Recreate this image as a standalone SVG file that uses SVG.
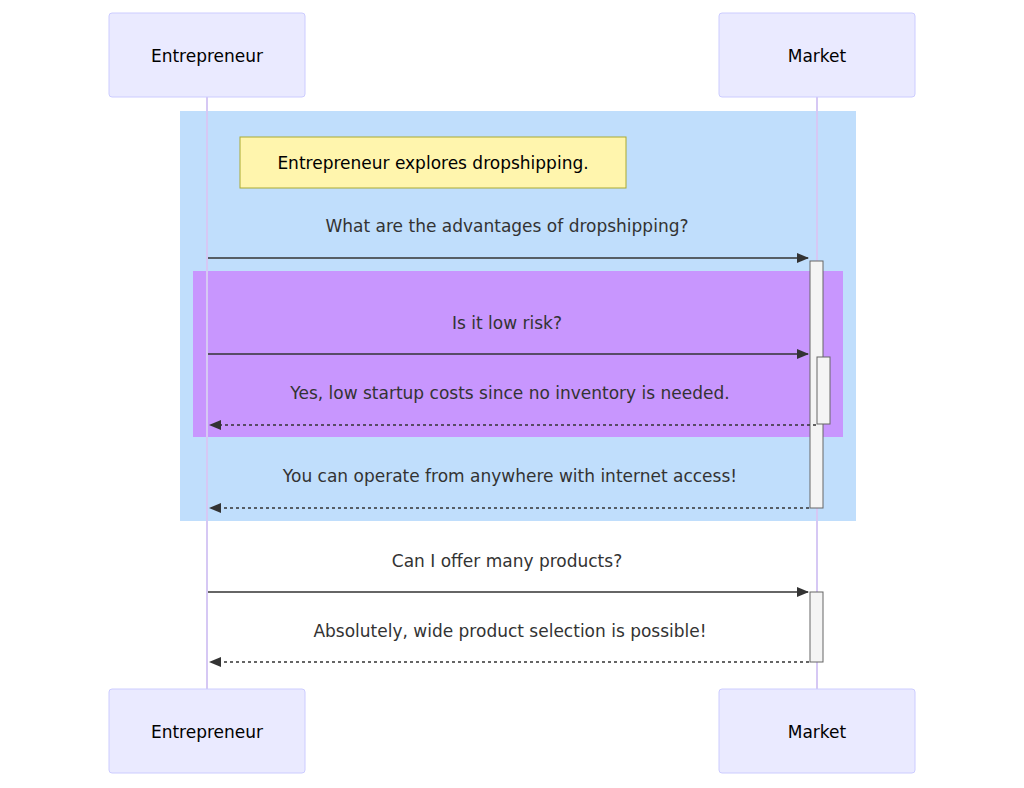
<svg xmlns="http://www.w3.org/2000/svg" width="1024" height="788" viewBox="0 0 1024 788">
<style>
.actor{fill:#eaeaff;stroke:#ccccff;stroke-width:1}
.at{font-family:"DejaVu Sans",Verdana,sans-serif;font-size:17px;fill:#000;text-anchor:middle;dominant-baseline:central}
.mt{font-family:"DejaVu Sans",Verdana,sans-serif;font-size:17px;fill:#333;text-anchor:middle;dominant-baseline:central}
.life{stroke:#d6c8f4;stroke-width:2}
.msg{stroke:#333;stroke-width:1.5;fill:none}
.dash{stroke-dasharray:3,3}
.act{fill:#f4f4f4;stroke:#666;stroke-width:1}
</style>
<defs>
<marker id="ah" viewBox="0 0 12 10" refX="11" refY="5" markerWidth="12" markerHeight="10" markerUnits="userSpaceOnUse" orient="auto"><path d="M0,0L12,5L0,10z" fill="#333"/></marker>
</defs>
<rect x="180" y="111" width="676" height="410" fill="#c0defc"/>
<rect x="193" y="271" width="650" height="166" fill="#c896fe"/>
<g id="lifelines">
<line class="life" x1="207" y1="97" x2="207" y2="689"/>
<line class="life" x1="817" y1="97" x2="817" y2="689"/>
</g>
<g id="entrepreneur-top"><rect class="actor" x="109" y="13" width="196" height="84" rx="3"/><text class="at" x="207" y="56">Entrepreneur</text></g>
<g id="market-top"><rect class="actor" x="719" y="13" width="196" height="84" rx="3"/><text class="at" x="817" y="56">Market</text></g>
<g id="entrepreneur-bottom"><rect class="actor" x="109" y="689" width="196" height="84" rx="3"/><text class="at" x="207" y="732">Entrepreneur</text></g>
<g id="market-bottom"><rect class="actor" x="719" y="689" width="196" height="84" rx="3"/><text class="at" x="817" y="732">Market</text></g>
<g id="note"><rect x="240" y="137" width="386" height="51" fill="#fff5ad" stroke="#aaaa33"/><text class="at" x="433" y="163">Entrepreneur explores dropshipping.</text></g>
<g id="activations">
<rect class="act" x="810" y="261" width="13" height="247"/>
<rect class="act" x="817" y="357" width="13" height="67"/>
<rect class="act" x="810" y="592" width="13" height="70"/>
</g>
<g id="connectors">
<text class="mt" x="507" y="226">What are the advantages of dropshipping?</text>
<line class="msg" x1="208" y1="258" x2="808" y2="258" marker-end="url(#ah)"/>
<text class="mt" x="507" y="323">Is it low risk?</text>
<line class="msg" x1="208" y1="354" x2="808" y2="354" marker-end="url(#ah)"/>
<text class="mt" x="510" y="393">Yes, low startup costs since no inventory is needed.</text>
<line class="msg dash" x1="816" y1="425" x2="210" y2="425" marker-end="url(#ah)"/>
<text class="mt" x="510" y="476">You can operate from anywhere with internet access!</text>
<line class="msg dash" x1="809" y1="508" x2="210" y2="508" marker-end="url(#ah)"/>
<text class="mt" x="507" y="561">Can I offer many products?</text>
<line class="msg" x1="208" y1="592" x2="808" y2="592" marker-end="url(#ah)"/>
<text class="mt" x="510" y="631">Absolutely, wide product selection is possible!</text>
<line class="msg dash" x1="809" y1="662" x2="210" y2="662" marker-end="url(#ah)"/>
</g>
</svg>
